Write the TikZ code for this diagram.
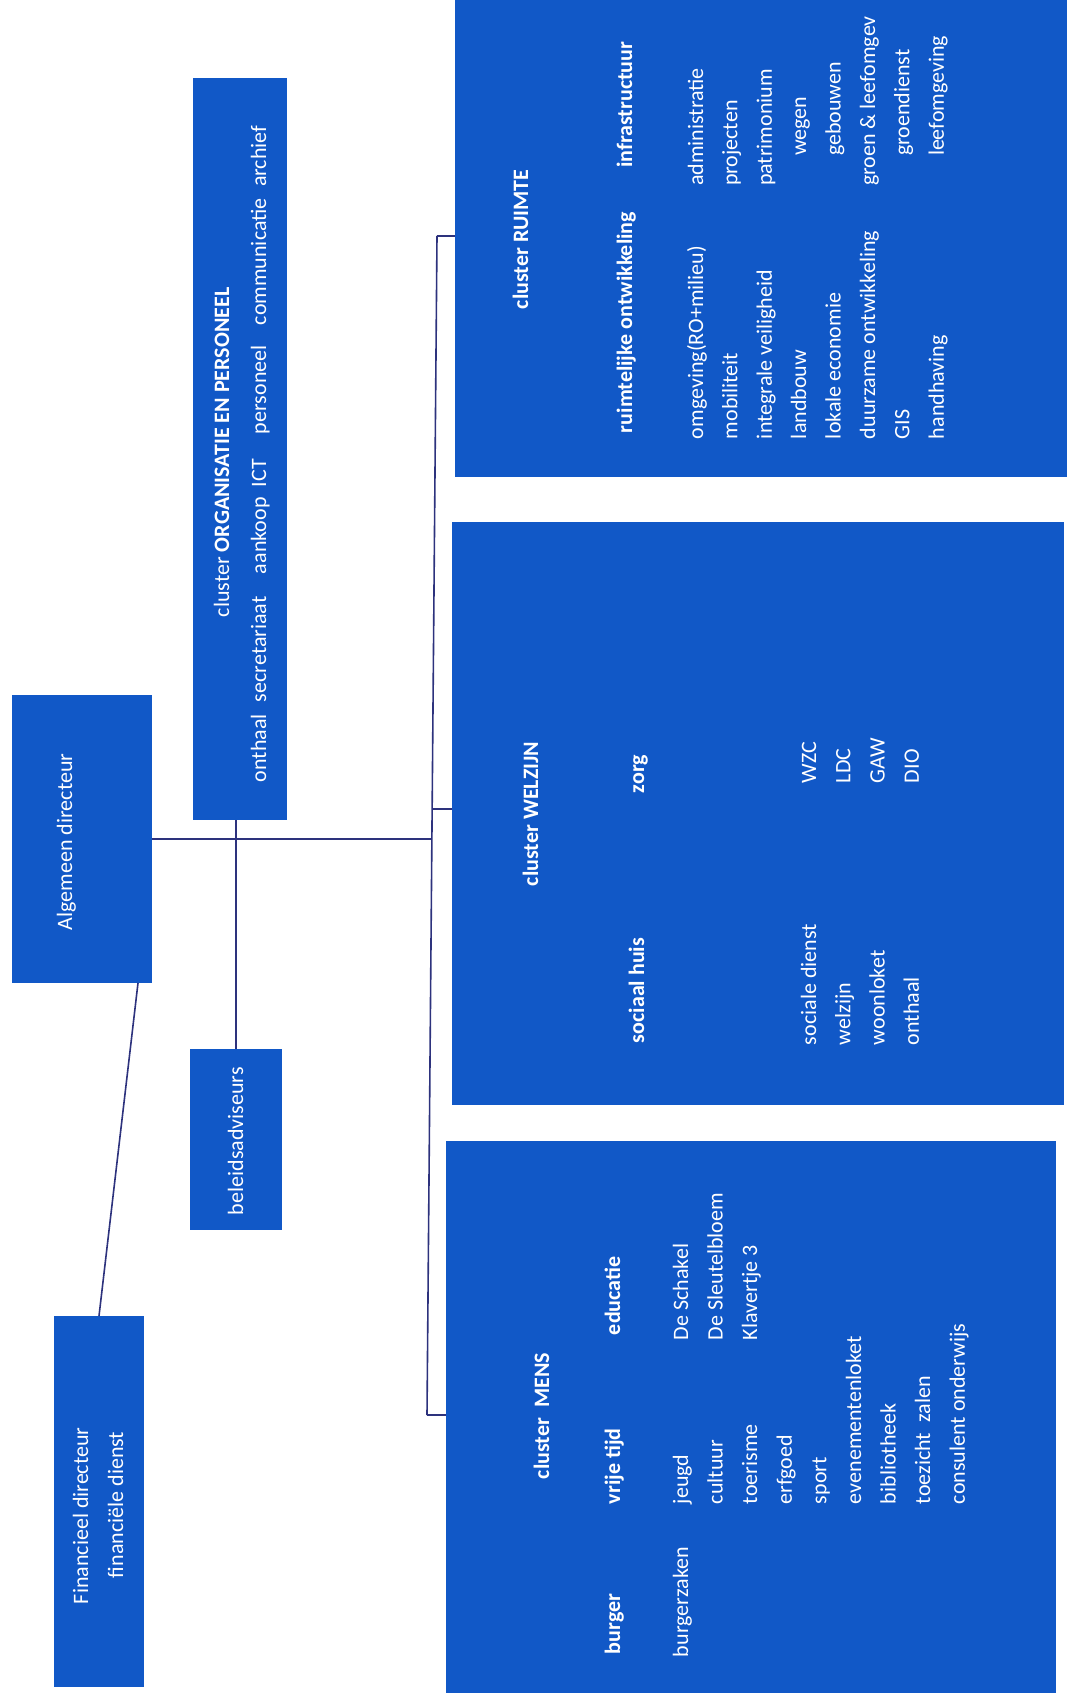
\documentclass[tikz,border=0pt]{standalone}
\usepackage{fontspec}
\setmainfont{Carlito}
\definecolor{boxblue}{RGB}{17,88,199}
\definecolor{linecol}{RGB}{45,50,125}
\begin{document}
\begin{tikzpicture}[x=1pt,y=-1pt,
  box/.style={fill=boxblue, draw=none, inner sep=0pt, outer sep=0pt, rectangle, anchor=north west},
  txt/.style={text=white, font=\fontsize{22}{26}\selectfont, rotate=90, inner sep=0pt, outer sep=0pt, anchor=base west},
  hd/.style={txt, font=\fontsize{22}{26}\selectfont\bfseries},
  conn/.style={draw=linecol, line width=1.6pt}]
\useasboundingbox (0,0) rectangle (1067,1699);

% boxes
\node[box, minimum width=140pt, minimum height=288pt] (ad) at (12,695) {};
\node[box, minimum width=94pt, minimum height=742pt] (org) at (193,78) {};
\node[box, minimum width=92pt, minimum height=181pt] (bel) at (190,1049) {};
\node[box, minimum width=90pt, minimum height=371pt] (fin) at (54,1316) {};
\node[box, minimum width=612pt, minimum height=477pt] (ruimte) at (455,0) {};
\node[box, minimum width=612pt, minimum height=583pt] (welzijn) at (452,522) {};
\node[box, minimum width=610pt, minimum height=552pt] (mens) at (446,1141) {};

% connectors
\coordinate (t1) at (437,236);
\coordinate (t2) at (432.1,809);
\coordinate (t3) at (431.9,839);
\coordinate (t4) at (427,1415);
\draw[conn] (t1) -- (t4);
\draw[conn] (t1) -- (t1 -| ruimte.west);
\draw[conn] (t2) -- (t2 -| welzijn.west);
\draw[conn] (t4) -- (t4 -| mens.west);
\draw[conn] (ad.east) -- (t3);
\draw[conn] (org.south -| bel.north) -- (bel.north);
\draw[conn] ([xshift=56pt]ad.south) -- (fin.north);

% small boxes text
\node[txt] (adt) at (72,930) {Algemeen directeur};
\node[txt] (fint1) at (88,1604) {Financieel directeur};
\node[txt] (fint2) at (123,1578) {financiële dienst};
\node[txt] (belt) at (243,1215) {beleidsadviseurs};

% organisatie
\node[txt] (orgt) at (229,617) {cluster \textbf{ORGANISATIE EN PERSONEEL}};
\node[txt] (o1) at (266,782) {onthaal};
\node[txt] (o2) at (266,702) {secretariaat};
\node[txt] (o3) at (266,574) {aankoop};
\node[txt] (o4) at (266,487) {ICT};
\node[txt] (o5) at (266,434) {personeel};
\node[txt] (o6) at (266,325) {communicatie};
\node[txt] (o7) at (266,187) {archief};

% RUIMTE
\node[hd] (rt) at (528,309) {cluster RUIMTE};
\node[hd] (rh1) at (632,433) {ruimtelijke ontwikkeling};
\node[hd] (rh2) at (632,168) {infrastructuur};
\foreach \t [count=\i from 0] in {omgeving(RO+milieu),mobiliteit,integrale veiligheid,landbouw,lokale economie,duurzame ontwikkeling,GIS,handhaving}
  \node[txt] (rl\i) at ({703+34.4*\i},439) {\t};
\foreach \t/\s [count=\i from 0] in {administratie/186,projecten/186,patrimonium/186,wegen/156,gebouwen/156,groen \& leefomgev/186,groendienst/156,leefomgeving/156}
  \node[txt] (rr\i) at ({703+34.4*\i},\s) {\t};

% WELZIJN
\node[hd] (wt) at (538,886) {cluster WELZIJN};
\node[hd] (wh1) at (644,1043) {sociaal huis};
\node[hd] (wh2) at (644,793) {zorg};
\foreach \t [count=\i from 0] in {sociale dienst,welzijn,woonloket,onthaal}
  \node[txt] (wl\i) at ({816+34.3*\i},1045) {\t};
\foreach \t [count=\i from 0] in {WZC,LDC,GAW,DIO}
  \node[txt] (wr\i) at ({816+34.3*\i},783) {\t};

% MENS
\node[hd] (mt) at (549,1479) {cluster\ \ MENS};
\node[hd] (mh1) at (620,1654) {burger};
\node[hd] (mh2) at (620,1504) {vrije tijd};
\node[hd] (mh3) at (620,1335) {educatie};
\node[txt] (ml0) at (688,1657) {burgerzaken};
\foreach \t [count=\i from 0] in {jeugd,cultuur,toerisme,erfgoed,sport,evenementenloket,bibliotheek,toezicht\ \ zalen,consulent onderwijs}
  \node[txt] (mm\i) at ({688+34.6*\i},1504) {\t};
\foreach \t [count=\i from 0] in {De Schakel,De Sleutelbloem,Klavertje 3}
  \node[txt] (me\i) at ({688+34.6*\i},1340) {\t};
\end{tikzpicture}
\end{document}
